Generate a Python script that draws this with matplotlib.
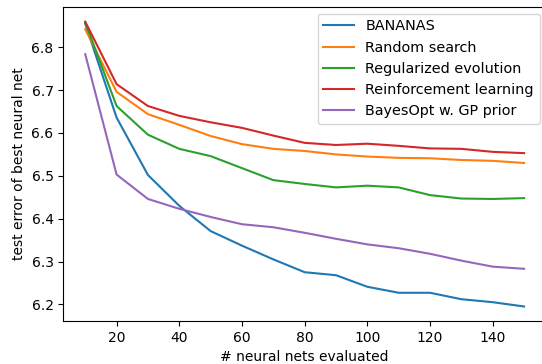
import matplotlib
matplotlib.use('Agg')
from matplotlib import pyplot as plt

n_evaluated = [10, 20, 30, 40, 50, 60, 70, 80, 90, 100, 110, 120, 130, 140, 150]

bananas = [6.855, 6.636, 6.502, 6.430, 6.371, 6.337, 6.305, 6.275, 6.268,
           6.241, 6.227, 6.227, 6.212, 6.205, 6.195]
random_search = [6.842, 6.696, 6.644, 6.619, 6.593, 6.574, 6.563, 6.558, 6.550,
                 6.545, 6.542, 6.541, 6.537, 6.535, 6.530]
reg_evolution = [6.858, 6.663, 6.596, 6.563, 6.546, 6.518, 6.490, 6.481, 6.473,
                 6.477, 6.473, 6.455, 6.447, 6.446, 6.448]
reinforcement = [6.860, 6.714, 6.663, 6.640, 6.625, 6.612, 6.594, 6.577, 6.572,
                 6.575, 6.570, 6.564, 6.563, 6.556, 6.553]
bayesopt_gp = [6.784, 6.503, 6.446, 6.423, 6.404, 6.387, 6.380, 6.367, 6.353,
               6.340, 6.331, 6.318, 6.302, 6.288, 6.283]

series = [bananas, random_search, reg_evolution, reinforcement, bayesopt_gp]
labels = ['BANANAS', 'Random search', 'Regularized evolution',
          'Reinforcement learning', 'BayesOpt w. GP prior']

fig = plt.figure(figsize=(5.42, 3.64), dpi=100)
# axes run slightly past the right edge, as in the cropped original
ax = fig.add_axes([0.1168, 0.118, 0.8906, 0.8626])

for values, label in zip(series, labels):
    ax.plot(n_evaluated, values, label=label)

ax.set_xlim(3, 157)
ax.set_ylim(6.161, 6.894)
ax.set_xticks(range(20, 141, 20))
ax.set_xlabel('# neural nets evaluated')
ax.set_ylabel('test error of best neural net')
ax.legend(loc='upper right', fontsize=10.4, handlelength=2.1,
          borderaxespad=0.45)

fig.savefig('out.png', dpi=100)
